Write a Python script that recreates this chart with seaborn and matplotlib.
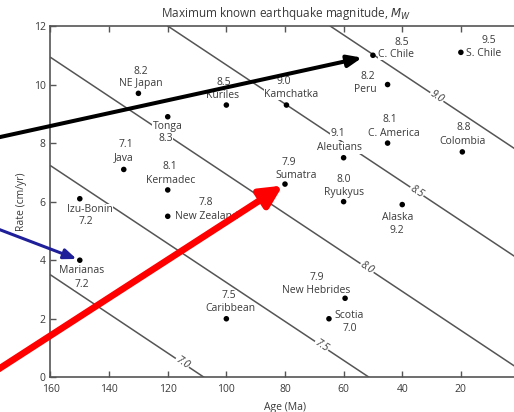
import pandas as pd
import matplotlib.pyplot as plt
import seaborn as sns

# subduction zones: name, plate age (Ma), convergence rate (cm/yr), max Mw
zones = ["NE Japan", "Tonga", "Kuriles", "Kamchatka", "C. Chile", "S. Chile",
         "Peru", "Aleutians", "C. America", "Colombia", "Sumatra", "Ryukyus",
         "Alaska", "Java", "Kermadec", "New Zealand", "Izu-Bonin", "Marianas",
         "Caribbean", "New Hebrides", "Scotia"]
ages = [130, 120, 100, 79.5, 50, 20, 45, 60, 45, 19.5, 80, 60, 40, 135, 120,
        120, 150, 150, 100, 59.5, 65]
rates = [9.7, 8.9, 9.3, 9.3, 11.0, 11.1, 10.0, 7.5, 8.0, 7.7, 6.6, 6.0, 5.9,
         7.1, 6.4, 5.5, 6.1, 4.0, 2.0, 2.7, 2.0]
mags = ["8.2", "8.3", "8.5", "9.0", "8.5", "9.5", "8.2", "9.1", "8.1", "8.8",
        "7.9", "8.0", "9.2", "7.1", "8.1", "7.8", "7.2", "7.2", "7.5", "7.9",
        "7.0"]

# iso-magnitude lines, each given by two (age, rate) end points
iso_mag = ["7.0", "7.5", "8.0", "8.5", "9.0"]
iso_age0 = [160, 160, 160, 120, 64.6]
iso_rate0 = [3.5, 7.23, 10.93, 12, 12]
iso_age1 = [107.6, 51.3, 0, 0, 0]
iso_rate1 = [0, 0, 0.27, 4.02, 7.7]
# where the line label sits (age along the line)
iso_label_age = [115, 67.5, 52, 35, 28.2]

x_ticks = [160, 140, 120, 100, 80, 60, 40, 20]
y_ticks = [0, 2, 4, 6, 8, 10, 12]

# label layout: offsets in pixels (right, down) for name and magnitude
layout = {
    "NE Japan": ((2, -10, "center"), (2, -22)),
    "Tonga": ((0, 10, "center"), (-2, 22)),
    "Kuriles": ((-4, -10, "center"), (-3, -23)),
    "Kamchatka": ((5, -11, "center"), (-3, -24)),
    "C. Chile": ((5, -1, "left"), (29, -13)),
    "S. Chile": ((5, 1, "left"), (28, -12)),
    "Peru": ((-22, 5, "center"), (-20, -8)),
    "Aleutians": ((-4, -10, "center"), (-6, -24)),
    "C. America": ((6, -10, "center"), (2, -24)),
    "Colombia": ((0, -10, "center"), (1, -24)),
    "Sumatra": ((11, -9, "center"), (4, -22)),
    "Ryukyus": ((0, -9, "center"), (0, -22)),
    "Alaska": ((-5, 13, "center"), (-5, 26)),
    "Java": ((0, -12, "center"), (2, -25)),
    "Kermadec": ((3, -9, "center"), (2, -23)),
    "New Zealand": ((7, 0, "left"), (38, -14)),
    "Izu-Bonin": ((10, 11, "center"), (6, 23)),
    "Marianas": ((2, 10, "center"), (2, 24)),
    "Caribbean": ((4, -10, "center"), (3, -23)),
    "New Hebrides": ((-29, -8, "center"), (-28, -21)),
    "Scotia": ((20, -3, "center"), (21, 10)),
}

sns.set_style("ticks")
plt.rcParams["font.family"] = ["Open Sans", "DejaVu Sans"]
plt.rcParams["mathtext.fontset"] = "dejavusans"
txt = "#3a3a3a"
gray = "#555555"

df = pd.DataFrame({"zone": zones, "age": ages, "rate": rates, "mag": mags})
iso = pd.DataFrame({
    "mag": iso_mag * 2,
    "age": iso_age0 + iso_age1,
    "rate": iso_rate0 + iso_rate1,
})

fig = plt.figure(figsize=(5.14, 4.12), dpi=100)
ax = fig.add_axes([0.0982, 0.0842, 0.9125, 0.8527])

sns.lineplot(data=iso, x="age", y="rate", units="mag", estimator=None,
             color=gray, lw=1.1, ax=ax, zorder=1)

for m, a0, r0, a1, r1, la in zip(iso_mag, iso_age0, iso_rate0, iso_age1,
                                 iso_rate1, iso_label_age):
    slope = (r1 - r0) / (a1 - a0)
    lr = r0 + slope * (la - a0)
    ax.text(la, lr, m, rotation=-33.5, ha="center", va="center",
            rotation_mode="anchor", fontsize=7.5, color=txt, style="italic",
            bbox=dict(fc="white", ec="none", pad=0.6), zorder=2)

sns.scatterplot(data=df, x="age", y="rate", color="black", s=16,
                edgecolor="none", ax=ax, zorder=4)

for z, a, r, m in zip(zones, ages, rates, mags):
    (nx, ny, nha), (mx, my) = layout[z]
    ax.annotate(z, (a, r), xytext=(nx, -ny), textcoords="offset pixels",
                ha=nha, va="center", fontsize=7.5, color=txt, zorder=3,
                bbox=dict(fc="white", ec="none", pad=0.3))
    ax.annotate(m, (a, r), xytext=(mx, -my), textcoords="offset pixels",
                ha="center", va="center", fontsize=7.5, color=txt, zorder=3,
                bbox=dict(fc="white", ec="none", pad=0.3))

ax.set_xlim(160, 0)
ax.set_ylim(0, 12)
ax.set_xticks(x_ticks)
ax.set_yticks(y_ticks)
ax.set_xlabel("Age (Ma)", fontsize=7.5, color=txt, labelpad=5)
ax.set_ylabel("Rate (cm/yr)", fontsize=7.5, color=txt, labelpad=5)
ax.tick_params(direction="in", length=4, width=1, color=gray,
               labelsize=7.5, labelcolor=txt, top=True, right=False)
ax.tick_params(axis="x", pad=5)
for s in ["left", "bottom", "top"]:
    ax.spines[s].set_visible(True)
    ax.spines[s].set_color(gray)
    ax.spines[s].set_linewidth(1.2)
ax.spines["right"].set_visible(False)

fig.text(285.5 / 514, 1 - 13 / 412, "Maximum known earthquake magnitude, $M_W$",
         ha="center", va="center", fontsize=8.5, color=txt)

# highlight arrows pointing at three zones
def arrow(name, start, color, lw, head, shrink):
    i = zones.index(name)
    ax.annotate("", xy=(ages[i], rates[i]), xytext=start,
                textcoords="figure pixels", annotation_clip=False,
                arrowprops=dict(arrowstyle=f"-|>,head_length={head[0]},head_width={head[1]}",
                                color=color, lw=lw, shrinkA=0, shrinkB=shrink),
                zorder=6)

arrow("C. Chile", (-2, 274.5), "black", 2.9, (0.85, 0.35), 8)
arrow("Marianas", (-2, 183), "#1f1f9a", 2.2, (0.75, 0.3), 2.5)
arrow("Sumatra", (-2, 42.5), "#ff0000", 4.8, (1.3, 0.65), 2)

fig.savefig("out.png", dpi=100)
